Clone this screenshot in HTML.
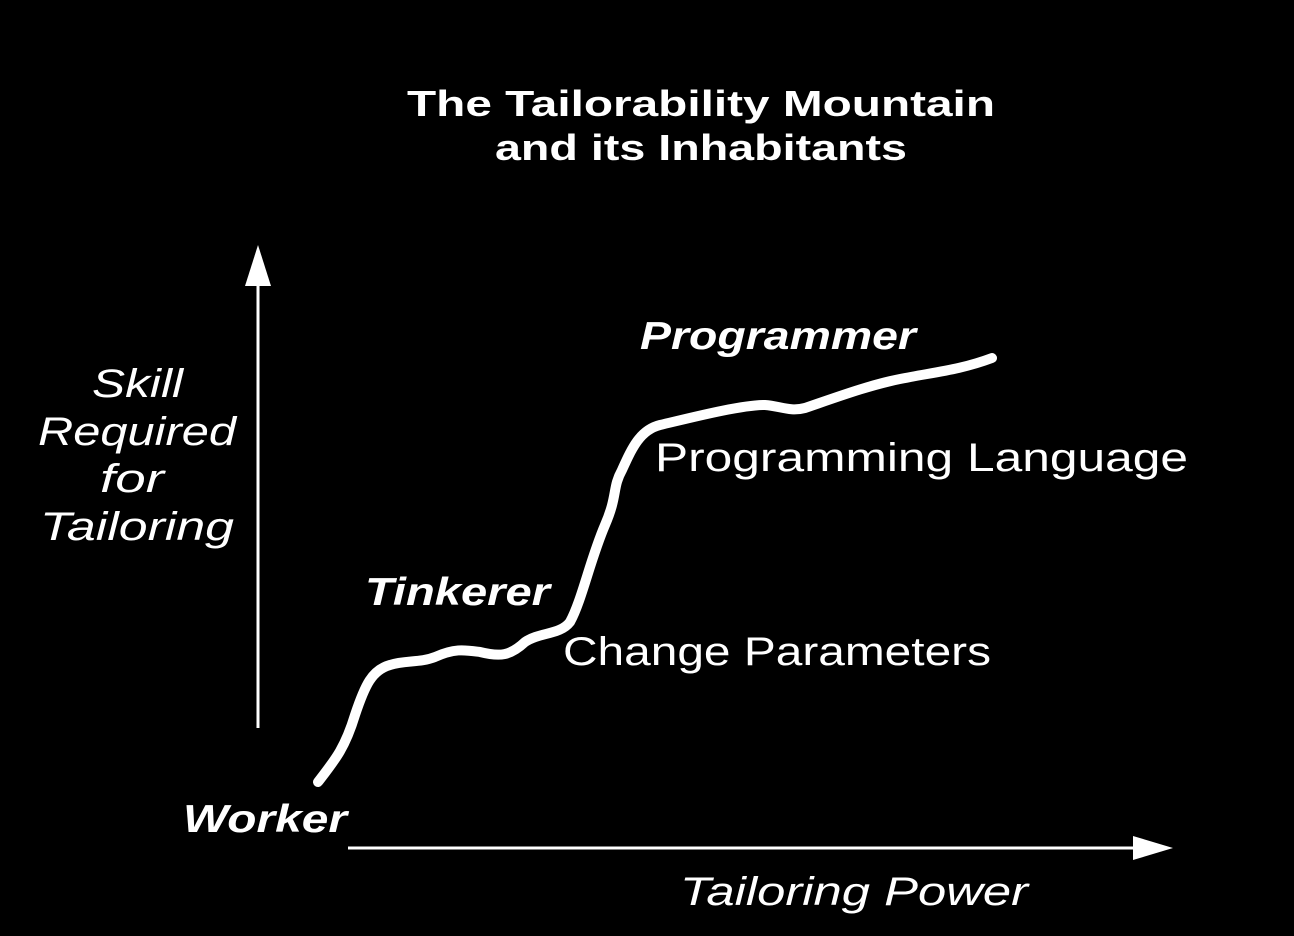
<!DOCTYPE html>
<html><head><meta charset="utf-8"><style>
html,body{margin:0;padding:0;background:#000;}
svg{display:block;}
text{font-family:"Liberation Sans",sans-serif;fill:#fff;}
</style></head><body>
<svg width="1294" height="936" viewBox="0 0 1294 936" xmlns="http://www.w3.org/2000/svg">
<rect width="1294" height="936" fill="#000"/>
<text x="407" y="116" font-size="36" font-weight="bold" textLength="588" lengthAdjust="spacingAndGlyphs">The Tailorability Mountain</text>
<text x="495" y="160" font-size="36" font-weight="bold" textLength="412" lengthAdjust="spacingAndGlyphs">and its Inhabitants</text>
<line x1="258" y1="280" x2="258" y2="728" stroke="#fff" stroke-width="3"/>
<polygon points="258,245 245,286 271,286" fill="#fff"/>
<line x1="348" y1="848" x2="1140" y2="848" stroke="#fff" stroke-width="3"/>
<polygon points="1173,848 1133,836 1133,860" fill="#fff"/>
<g font-style="italic" font-size="40">
<text x="92" y="397" textLength="91" lengthAdjust="spacingAndGlyphs">Skill</text>
<text x="38" y="445" textLength="198" lengthAdjust="spacingAndGlyphs">Required</text>
<text x="100" y="492" textLength="64" lengthAdjust="spacingAndGlyphs">for</text>
<text x="40" y="540" textLength="194" lengthAdjust="spacingAndGlyphs">Tailoring</text>
</g>
<text x="640" y="349" font-size="39" font-weight="bold" font-style="italic" textLength="276" lengthAdjust="spacingAndGlyphs">Programmer</text>
<text x="655" y="471" font-size="40" textLength="533" lengthAdjust="spacingAndGlyphs">Programming Language</text>
<text x="365" y="605" font-size="39" font-weight="bold" font-style="italic" textLength="185" lengthAdjust="spacingAndGlyphs">Tinkerer</text>
<text x="563" y="665" font-size="40" textLength="428" lengthAdjust="spacingAndGlyphs">Change Parameters</text>
<text x="183" y="832" font-size="39" font-weight="bold" font-style="italic" textLength="164" lengthAdjust="spacingAndGlyphs">Worker</text>
<text x="680" y="905" font-size="40" font-style="italic" textLength="348" lengthAdjust="spacingAndGlyphs">Tailoring Power</text>
<path fill="none" stroke="#fff" stroke-width="10" stroke-linecap="round" stroke-linejoin="round"
d="M318,782 C335,760 345,748 355,715 C365,685 372,670 390,665 C405,660 420,663 435,657 C455,648 465,650 480,652 C500,657 510,656 525,642 C540,632 560,635 570,622 C582,600 590,560 605,525 C618,495 612,488 622,470 C632,448 640,430 660,425 C690,418 740,405 765,405 C780,406 790,412 805,408 C840,396 870,385 900,379 C935,372 960,370 992,358"/>
</svg>
</body></html>
